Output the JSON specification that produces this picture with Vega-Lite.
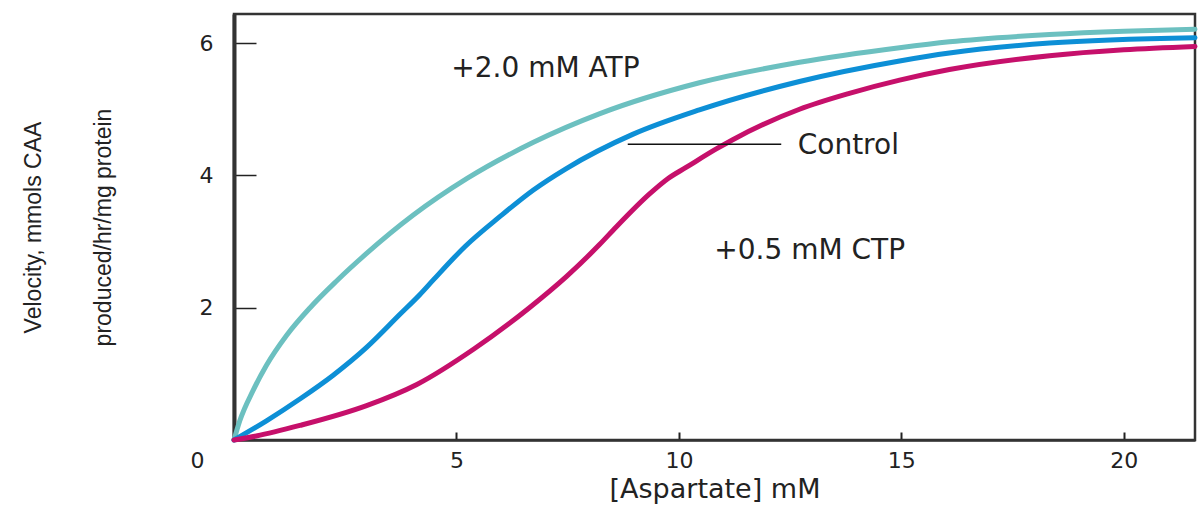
{
  "$schema": "https://vega.github.io/schema/vega-lite/v6.json",
  "width": 961,
  "height": 426,
  "autosize": {"type": "none"},
  "padding": {"left": 234, "top": 14, "right": 5, "bottom": 67},
  "background": "white",
  "config": {
    "view": {"stroke": "#333333", "strokeWidth": 2.5},
    "font": "DejaVu Sans"
  },
  "datasets": {
    "curves": [
      {"series": "+2.0 mM ATP", "asp": 0, "v": 0},
      {"series": "+2.0 mM ATP", "asp": 0.13, "v": 0.29},
      {"series": "+2.0 mM ATP", "asp": 0.43, "v": 0.75},
      {"series": "+2.0 mM ATP", "asp": 0.73, "v": 1.13},
      {"series": "+2.0 mM ATP", "asp": 1.18, "v": 1.58},
      {"series": "+2.0 mM ATP", "asp": 1.71, "v": 2.0},
      {"series": "+2.0 mM ATP", "asp": 2.3, "v": 2.4},
      {"series": "+2.0 mM ATP", "asp": 2.98, "v": 2.82},
      {"series": "+2.0 mM ATP", "asp": 4.03, "v": 3.4},
      {"series": "+2.0 mM ATP", "asp": 5.23, "v": 3.95},
      {"series": "+2.0 mM ATP", "asp": 6.73, "v": 4.5},
      {"series": "+2.0 mM ATP", "asp": 8.21, "v": 4.93},
      {"series": "+2.0 mM ATP", "asp": 10.46, "v": 5.4},
      {"series": "+2.0 mM ATP", "asp": 12.71, "v": 5.71},
      {"series": "+2.0 mM ATP", "asp": 14.96, "v": 5.93},
      {"series": "+2.0 mM ATP", "asp": 16.08, "v": 6.02},
      {"series": "+2.0 mM ATP", "asp": 18.33, "v": 6.13},
      {"series": "+2.0 mM ATP", "asp": 20.0, "v": 6.18},
      {"series": "+2.0 mM ATP", "asp": 21.6, "v": 6.21},
      {"series": "Control", "asp": 0, "v": 0},
      {"series": "Control", "asp": 0.73, "v": 0.29},
      {"series": "Control", "asp": 1.48, "v": 0.62},
      {"series": "Control", "asp": 2.23, "v": 0.98},
      {"series": "Control", "asp": 2.98, "v": 1.4},
      {"series": "Control", "asp": 3.73, "v": 1.9},
      {"series": "Control", "asp": 4.18, "v": 2.2},
      {"series": "Control", "asp": 4.48, "v": 2.42},
      {"series": "Control", "asp": 5.2, "v": 2.93},
      {"series": "Control", "asp": 5.98, "v": 3.38},
      {"series": "Control", "asp": 6.73, "v": 3.78},
      {"series": "Control", "asp": 7.46, "v": 4.1},
      {"series": "Control", "asp": 8.96, "v": 4.62},
      {"series": "Control", "asp": 10.46, "v": 4.99},
      {"series": "Control", "asp": 12.71, "v": 5.42},
      {"series": "Control", "asp": 14.96, "v": 5.73},
      {"series": "Control", "asp": 16.08, "v": 5.85},
      {"series": "Control", "asp": 18.33, "v": 6.0},
      {"series": "Control", "asp": 21.6, "v": 6.08},
      {"series": "+0.5 mM CTP", "asp": 0, "v": 0},
      {"series": "+0.5 mM CTP", "asp": 0.5, "v": 0.06},
      {"series": "+0.5 mM CTP", "asp": 1.48, "v": 0.22},
      {"series": "+0.5 mM CTP", "asp": 2.98, "v": 0.52},
      {"series": "+0.5 mM CTP", "asp": 4.11, "v": 0.84},
      {"series": "+0.5 mM CTP", "asp": 5.4, "v": 1.38},
      {"series": "+0.5 mM CTP", "asp": 6.64, "v": 2.0},
      {"series": "+0.5 mM CTP", "asp": 7.47, "v": 2.47},
      {"series": "+0.5 mM CTP", "asp": 8.21, "v": 2.95},
      {"series": "+0.5 mM CTP", "asp": 8.59, "v": 3.22},
      {"series": "+0.5 mM CTP", "asp": 9.34, "v": 3.72},
      {"series": "+0.5 mM CTP", "asp": 9.75, "v": 3.95},
      {"series": "+0.5 mM CTP", "asp": 10.16, "v": 4.12},
      {"series": "+0.5 mM CTP", "asp": 10.84, "v": 4.4},
      {"series": "+0.5 mM CTP", "asp": 11.21, "v": 4.54},
      {"series": "+0.5 mM CTP", "asp": 12.71, "v": 5.0},
      {"series": "+0.5 mM CTP", "asp": 13.83, "v": 5.24},
      {"series": "+0.5 mM CTP", "asp": 14.96, "v": 5.44},
      {"series": "+0.5 mM CTP", "asp": 16.08, "v": 5.6},
      {"series": "+0.5 mM CTP", "asp": 18.33, "v": 5.81},
      {"series": "+0.5 mM CTP", "asp": 20.0, "v": 5.9},
      {"series": "+0.5 mM CTP", "asp": 21.6, "v": 5.95}
    ],
    "centerLabels": [
      {"label": "+2.0 mM ATP", "asp": 7.0, "v": 5.61},
      {"label": "+0.5 mM CTP", "asp": 12.94, "v": 2.86}
    ],
    "leftLabels": [
      {"label": "Control", "asp": 12.67, "v": 4.45}
    ],
    "leader": [
      {"asp": 8.85, "asp2": 12.3, "v": 4.47}
    ]
  },
  "layer": [
    {
      "data": {"name": "curves"},
      "mark": {"type": "line", "interpolate": "monotone", "strokeWidth": 5, "strokeCap": "round"},
      "encoding": {
        "x": {
          "field": "asp", "type": "quantitative",
          "scale": {"domain": [0, 21.6], "nice": false, "zero": false},
          "axis": {
            "title": "[Aspartate] mM",
            "titleFont": "DejaVu Sans", "titleFontSize": 27, "titleFontWeight": "normal", "titleColor": "#222222",
            "titlePadding": 5,
            "values": [0, 5, 10, 15, 20],
            "format": "d",
            "grid": false,
            "domainColor": "#333333", "domainWidth": 2.5,
            "tickColor": "#222222", "tickWidth": 2, "tickSize": -8,
            "labelFont": "DejaVu Sans", "labelFontSize": 22, "labelColor": "#222222",
            "labelPadding": 18,
            "labelFlush": false,
            "labelOffset": {"condition": {"test": "datum.value === 0", "value": -37}, "value": 0}
          }
        },
        "y": {
          "field": "v", "type": "quantitative",
          "scale": {"domain": [0, 6.44], "nice": false, "zero": false},
          "axis": {
            "title": ["Velocity, mmols CAA", "produced/hr/mg protein"],
            "titleFont": "Liberation Sans", "titleFontSize": 23, "titleFontWeight": "normal", "titleColor": "#222222",
            "titleLineHeight": 70,
            "titlePadding": 84,
            "values": [2, 4, 6],
            "format": "d",
            "grid": false,
            "domainColor": "#333333", "domainWidth": 4,
            "tickColor": "#222222", "tickWidth": 1.5, "tickSize": -22,
            "labelFont": "DejaVu Sans", "labelFontSize": 22, "labelColor": "#222222",
            "labelPadding": 43
          }
        },
        "color": {
          "field": "series", "type": "nominal",
          "scale": {"domain": ["+2.0 mM ATP", "Control", "+0.5 mM CTP"], "range": ["#6cc0c0", "#0d8fd6", "#c6106b"]},
          "legend": null
        }
      }
    },
    {
      "data": {"name": "leader"},
      "mark": {"type": "rule", "color": "#111111", "strokeWidth": 1.5},
      "encoding": {
        "x": {"field": "asp", "type": "quantitative"},
        "x2": {"field": "asp2"},
        "y": {"field": "v", "type": "quantitative"}
      }
    },
    {
      "data": {"name": "centerLabels"},
      "mark": {"type": "text", "font": "DejaVu Sans", "fontSize": 28, "color": "#222222", "align": "center", "baseline": "middle"},
      "encoding": {
        "x": {"field": "asp", "type": "quantitative"},
        "y": {"field": "v", "type": "quantitative"},
        "text": {"field": "label"}
      }
    },
    {
      "data": {"name": "leftLabels"},
      "mark": {"type": "text", "font": "DejaVu Sans", "fontSize": 28, "color": "#222222", "align": "left", "baseline": "middle"},
      "encoding": {
        "x": {"field": "asp", "type": "quantitative"},
        "y": {"field": "v", "type": "quantitative"},
        "text": {"field": "label"}
      }
    }
  ]
}
